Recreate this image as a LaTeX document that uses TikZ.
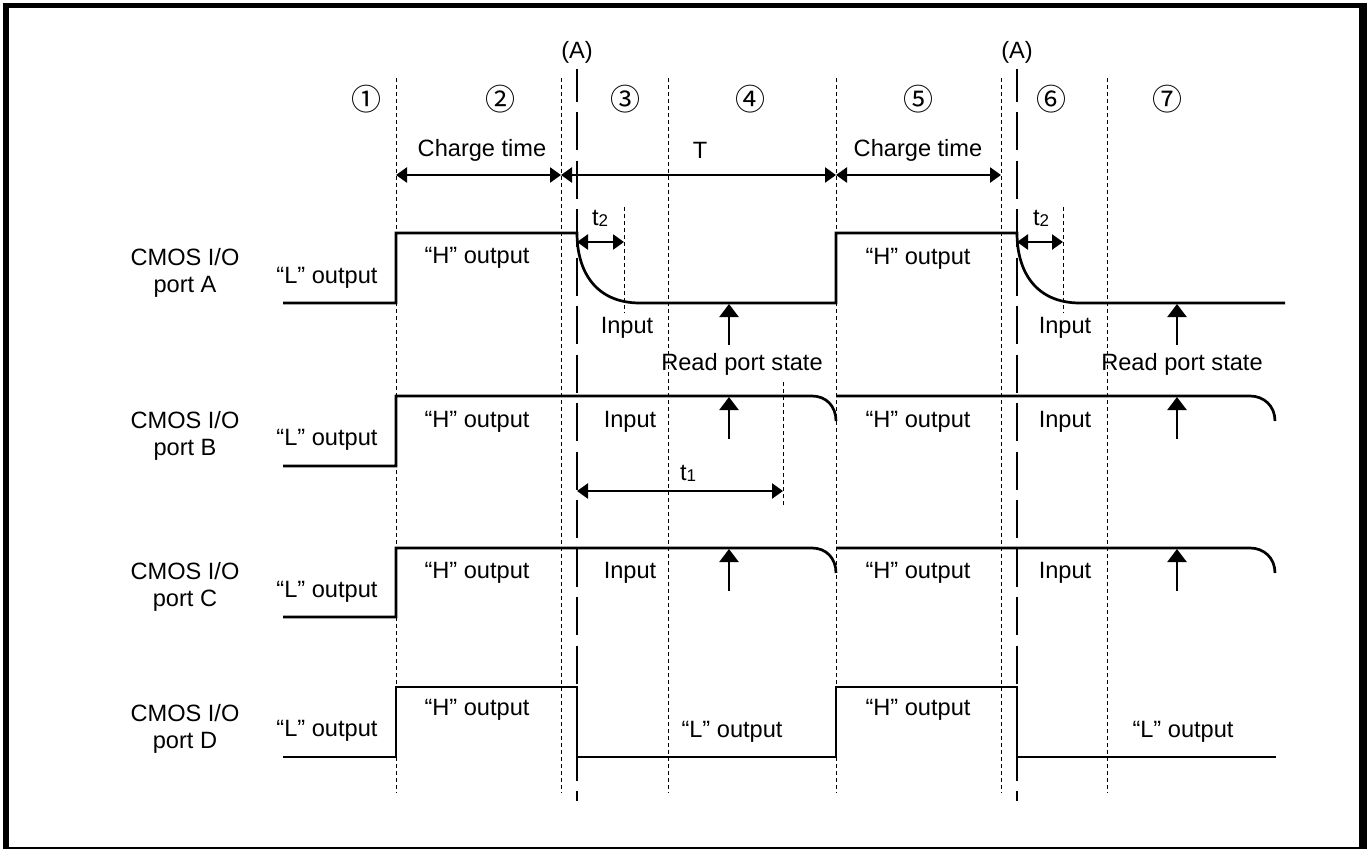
\documentclass[tikz,border=0pt]{standalone}
\usepackage{fontspec}
\setmainfont{Liberation Sans}
\newfontfamily\symfont{Noto Sans CJK JP}
\usetikzlibrary{arrows.meta}
\begin{document}
\begin{tikzpicture}[x=1pt,y=-1pt,
  lbl/.style={inner sep=0pt,font=\fontsize{23.6}{27}\selectfont},
  two/.style={lbl,align=center},
  num/.style={inner sep=0pt,font=\symfont\fontsize{30}{30}\selectfont},
  sig/.style={line width=2.7pt,line join=miter},
  thin/.style={line width=1pt,dash pattern=on 4pt off 3pt},
  adash/.style={line width=2.5pt,dash pattern=on 38pt off 10.5pt,dash phase=5.5pt},
  dim/.style={line width=2.5pt,{Triangle[width=15pt,length=11pt]}-{Triangle[width=15pt,length=11pt]}},
  rd/.style={line width=2.5pt,-{Triangle[width=19pt,length=13pt]}}]
\fill[white] (0,0) rectangle (1367,849);
\useasboundingbox (0,0) rectangle (1367,849);
% frame
\fill[black] (3,3) rectangle (1367,8);
\fill[black] (3,3) rectangle (9,849);
\fill[black] (1359,3) rectangle (1367,849);
\fill[black] (3,847) rectangle (1367,849);

% thin dashed vertical lines
\foreach \xx in {396,561,668,836,1001,1107}
  \draw[thin] (\xx,78) -- (\xx,793);
% (A) long dashed lines
\draw[adash] (577,69) -- (577,801);
\draw[adash] (1017,69) -- (1017,801);
\node[lbl] (A1) at (577,52) {(A)};
\node[lbl] (A2) at (1017,52) {(A)};

% short dashed marks
\draw[thin] (624,207) -- (624,313);
\draw[thin] (1063,207) -- (1063,313);
\draw[thin] (783,382) -- (783,507);

% circled numbers
\node[num] (n1) at (366,99) {①};
\node[num] (n2) at (500,99) {②};
\node[num] (n3) at (625,99) {③};
\node[num] (n4) at (750,99) {④};
\node[num] (n5) at (918,99) {⑤};
\node[num] (n6) at (1051,99) {⑥};
\node[num] (n7) at (1167,99) {⑦};

% top dimension arrows
\coordinate (c0) at (396,175);
\coordinate (c1) at (561,175);
\coordinate (c2) at (836,175);
\coordinate (c3) at (1001,175);
\draw[dim] (c0) -- (c1);
\draw[dim] (c1) -- (c2);
\draw[dim] (c2) -- (c3);
\node[lbl] (ct1) at (482,150) {Charge time};
\node[lbl] (T) at (700,150) {T};
\node[lbl] (ct2) at (918,150) {Charge time};

% t2 arrows
\coordinate (t2a) at (577,242);
\coordinate (t2b) at (624,242);
\coordinate (t2c) at (1017,242);
\coordinate (t2d) at (1063,242);
\draw[dim] (t2a) -- (t2b);
\draw[dim] (t2c) -- (t2d);
\node[lbl] (t2l1) at (600,218) {t\raisebox{-1pt}{\fontsize{17}{17}\selectfont 2}};
\node[lbl] (t2l2) at (1041,218) {t\raisebox{-1pt}{\fontsize{17}{17}\selectfont 2}};

% t1 arrow
\coordinate (t1a) at (577,491);
\coordinate (t1b) at (783,491);
\draw[dim] (t1a) -- (t1b);
\node[lbl] (t1l) at (688,473) {t\raisebox{-1pt}{\fontsize{17}{17}\selectfont 1}};

% port labels
\node[two] (pA) at (185,273) {CMOS I/O\\port A};
\node[two] (pB) at (185,436) {CMOS I/O\\port B};
\node[two] (pC) at (185,587) {CMOS I/O\\port C};
\node[two] (pD) at (185,729) {CMOS I/O\\port D};

% ---- port A
\draw[sig] (283,303) -- (396,303) -- (396,233) -- (577,233)
  .. controls (577,272) and (596,303) .. (640,303) -- (836,303) -- (836,233) -- (1017,233)
  .. controls (1017,272) and (1036,303) .. (1080,303) -- (1285,303);
\node[lbl] (LA) at (327,278) {“L” output};
\node[lbl] (HA1) at (477,258) {“H” output};
\node[lbl] (HA2) at (918,259) {“H” output};
\node[lbl] (IA1) at (627,328) {Input};
\node[lbl] (IA2) at (1065,328) {Input};
\node[lbl] (RA1) at (742,364) {Read port state};
\node[lbl] (RA2) at (1182,364) {Read port state};
\coordinate (ra1) at (729,345); \coordinate (ra1t) at (729,304);
\coordinate (ra2) at (1177,345); \coordinate (ra2t) at (1177,304);
\draw[rd] (ra1) -- (ra1t);
\draw[rd] (ra2) -- (ra2t);

% ---- port B
\draw[sig] (283,466) -- (396,466) -- (396,396) -- (812,396)
  .. controls (826,396) and (836,406) .. (836,421);
\draw[sig] (836,396) -- (1250,396) .. controls (1264,396) and (1275,406) .. (1275,421);
\node[lbl] (LB) at (327,440) {“L” output};
\node[lbl] (HB1) at (477,422) {“H” output};
\node[lbl] (HB2) at (918,422) {“H” output};
\node[lbl] (IB1) at (630,422) {Input};
\node[lbl] (IB2) at (1065,422) {Input};
\coordinate (rb1) at (729,439); \coordinate (rb1t) at (729,397);
\coordinate (rb2) at (1177,439); \coordinate (rb2t) at (1177,397);
\draw[rd] (rb1) -- (rb1t);
\draw[rd] (rb2) -- (rb2t);

% ---- port C
\draw[sig] (283,617) -- (396,617) -- (396,548) -- (812,548)
  .. controls (826,548) and (836,558) .. (836,573);
\draw[sig] (836,548) -- (1250,548) .. controls (1264,548) and (1275,558) .. (1275,573);
\node[lbl] (LC) at (327,592) {“L” output};
\node[lbl] (HC1) at (477,573) {“H” output};
\node[lbl] (HC2) at (918,573) {“H” output};
\node[lbl] (IC1) at (630,573) {Input};
\node[lbl] (IC2) at (1065,573) {Input};
\coordinate (rc1) at (729,591); \coordinate (rc1t) at (729,549);
\coordinate (rc2) at (1177,591); \coordinate (rc2t) at (1177,549);
\draw[rd] (rc1) -- (rc1t);
\draw[rd] (rc2) -- (rc2t);

% ---- port D
\draw[sig] (283,757) -- (396,757) -- (396,687) -- (577,687) -- (577,757)
  -- (836,757) -- (836,687) -- (1017,687) -- (1017,757) -- (1276,757);
\node[lbl] (LD1) at (327,731) {“L” output};
\node[lbl] (HD1) at (477,710) {“H” output};
\node[lbl] (HD2) at (918,710) {“H” output};
\node[lbl] (LD2) at (732,732) {“L” output};
\node[lbl] (LD3) at (1183,732) {“L” output};
\end{tikzpicture}
\end{document}
